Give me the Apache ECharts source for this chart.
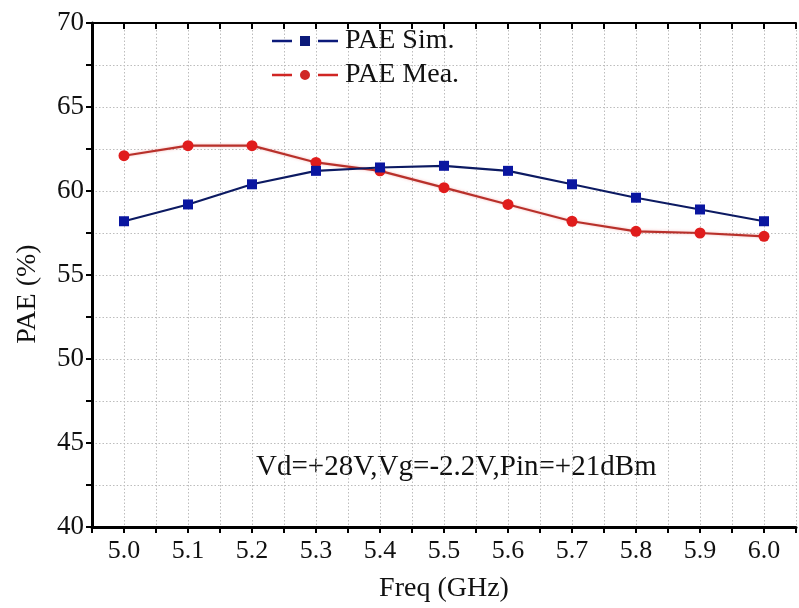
<!DOCTYPE html>
<html>
<head>
<meta charset="utf-8">
<script src="https://cdn.jsdelivr.net/npm/echarts@6/dist/echarts.min.js"></script>
<style>
html,body{margin:0;padding:0;background:#fff;}
#chart{width:799px;height:608px;}
</style>
</head>
<body>
<div id="chart"></div>
<script>
const freqs = [5.0, 5.1, 5.2, 5.3, 5.4, 5.5, 5.6, 5.7, 5.8, 5.9, 6.0];
const paeSim = [58.2, 59.2, 60.4, 61.2, 61.4, 61.5, 61.2, 60.4, 59.6, 58.9, 58.2];
const paeMea = [62.1, 62.7, 62.7, 61.7, 61.2, 60.2, 59.2, 58.2, 57.6, 57.5, 57.3];
const seriesNames = ['PAE Sim.', 'PAE Mea.'];
const xName = 'Freq (GHz)';
const yName = 'PAE (%)';
const note = 'Vd=+28V,Vg=-2.2V,Pin=+21dBm';

const FONT = '"Liberation Serif", "Times New Roman", serif';
const chart = echarts.init(document.getElementById('chart'), null, {renderer: 'canvas'});

const gridLine = {show: true, lineStyle: {color: '#bdbdbd', type: [1.5, 2], width: 1}};
const xFmt = v => { const r = Math.round(v * 100); return r % 10 === 0 ? (r / 100).toFixed(1) : ''; };

const iconSim = 'path://M0,3.8h20v2.4h-20Z M28,0h10v10h-10Z M46,3.8h20v2.4h-20Z';
const iconMea = 'path://M0,3.8h20v2.4h-20Z M33,0a5,5 0 1,1 0,10a5,5 0 1,1 0,-10Z M46,3.8h20v2.4h-20Z';

chart.setOption({
  animation: false,
  backgroundColor: '#fff',
  grid: {left: 92, right: -6, top: 23, bottom: 79},
  legend: {
    orient: 'vertical', left: 267, top: 22, itemGap: 6,
    itemWidth: 70, itemHeight: 10,
    textStyle: {fontFamily: FONT, fontSize: 28, color: '#111'},
    data: [
      {name: seriesNames[0], icon: iconSim, itemStyle: {color: '#0c1a7a', borderWidth: 0}},
      {name: seriesNames[1], icon: iconMea, itemStyle: {color: '#d02624', borderWidth: 0}}
    ]
  },
  xAxis: [{
    type: 'value', position: 'bottom', min: 4.95, max: 6.05, interval: 0.05,
    name: xName, nameLocation: 'middle', nameGap: 48,
    nameTextStyle: {fontFamily: FONT, fontSize: 28, color: '#111'},
    axisLine: {show: true, onZero: false, lineStyle: {color: '#000', width: 3}},
    axisTick: {show: true, inside: false, length: 6, lineStyle: {color: '#000', width: 2}},
    axisLabel: {formatter: xFmt, fontFamily: FONT, fontSize: 26, color: '#111', margin: 11, showMinLabel: true, showMaxLabel: true},
    splitLine: gridLine
  }, {
    type: 'value', position: 'top', min: 4.95, max: 6.05, interval: 0.05,
    axisLine: {show: true, onZero: false, lineStyle: {color: '#000', width: 2}},
    axisTick: {show: true, inside: true, length: 6, lineStyle: {color: '#000', width: 2}},
    axisLabel: {show: false},
    splitLine: {show: false}
  }],
  yAxis: {
    type: 'value', min: 40, max: 70, interval: 2.5,
    name: yName, nameLocation: 'middle', nameGap: 50,
    nameTextStyle: {fontFamily: FONT, fontSize: 28, color: '#111', padding: [0, 38, 0, 0]},
    axisLine: {show: true, onZero: false, lineStyle: {color: '#000', width: 3}},
    axisTick: {show: true, inside: false, length: 6, lineStyle: {color: '#000', width: 2}},
    axisLabel: {formatter: v => (v % 5 === 0 ? String(v) : ''), fontFamily: FONT, fontSize: 27, color: '#111', margin: 8},
    splitLine: gridLine
  },
  series: [{
    name: seriesNames[0], type: 'line', xAxisIndex: 0,
    data: freqs.map((f, i) => [f, paeSim[i]]),
    symbol: 'rect', symbolSize: 10,
    lineStyle: {color: '#0c1a62', width: 2.2},
    itemStyle: {color: '#0a16a0'},
    z: 3
  }, {
    name: seriesNames[1], type: 'line', xAxisIndex: 0,
    data: freqs.map((f, i) => [f, paeMea[i]]),
    symbol: 'circle', symbolSize: 11,
    lineStyle: {color: '#b8302a', width: 2.2, shadowColor: 'rgba(230,60,60,0.35)', shadowBlur: 3},
    itemStyle: {color: '#e01c1c'},
    z: 2
  }],
  graphic: [{
    type: 'text', left: 256, top: 453,
    style: {text: note, fontFamily: FONT, fontSize: 29, fill: '#111'}
  }]
});
</script>
</body>
</html>
